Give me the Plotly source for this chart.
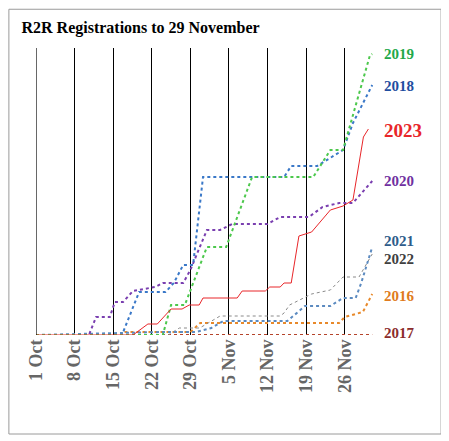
import plotly.graph_objects as go

# day 0 = 1 Oct (arbitrary units)
tick_days = [0, 7, 14, 21, 28, 35, 42, 49, 56]
tick_text = ["1 Oct", "8 Oct", "15 Oct", "22 Oct", "29 Oct", "5 Nov", "12 Nov", "19 Nov", "26 Nov"]

d2019 = [0, 23, 24.5, 27, 31, 34.5, 39.2, 50.3, 53.4, 55.7, 60.6, 61]
v2019 = [0, 0, 30, 30, 88, 88, 158, 158, 185, 185, 280, 281]

d2018 = [0, 15.6, 18.7, 23.5, 25, 26.7, 28.5, 30.3, 45, 46.3, 51, 55.7, 57.5, 61]
v2018 = [0, 0, 43, 43, 52, 70, 70, 158, 158, 169, 169, 185, 212, 250]

d2023 = [0, 17.6, 20.3, 22, 24.5, 26.5, 27.8, 29.6, 30.3, 36.5, 37.4, 41.6, 42.4, 44.3, 45, 46.3,
         47.7, 50, 53.4, 55.7, 57.5, 59.4, 60.3]
v2023 = [0, 0, 11, 11, 26, 26, 30, 30, 37, 37, 44, 44, 48, 48, 52, 52,
         99, 103, 125, 129, 135, 198, 206]

d2020 = [0, 9.6, 10.9, 13.4, 14.3, 15.8, 17.6, 21.6, 23, 26.7, 28, 31, 33.4, 35.6, 42, 44.3,
         49.5, 52, 55, 57.5, 61]
v2020 = [0, 0, 18, 18, 33, 33, 44, 48, 52, 52, 65, 105, 105, 111, 111, 118,
         118, 128, 132, 132, 154]

d2021 = [0, 23, 29, 31.8, 34, 45.6, 48.8, 53.4, 55.7, 58, 59, 61]
v2021 = [0, 3, 3, 7, 14, 14, 29, 29, 37, 37, 52, 88]

d2022 = [0, 24, 26, 29.7, 33.4, 44.3, 45, 46, 50, 53.4, 55.7, 58.6, 61]
v2022 = [0, 0, 7, 7, 19, 19, 22, 30, 41, 45, 58, 58, 81]

d2016 = [0, 15.8, 16.2, 28, 29.8, 55, 56, 59.3, 61]
v2016 = [0, 0, 3, 3, 12, 12, 18, 23, 41]

d2017 = [0, 61]
v2017 = [0, 0]

series = [
    ("2017", d2017, v2017, "#b5442b", "#8b2c2c", "dot", 2),
    ("2016", d2016, v2016, "#e8892a", "#e07b20", "dot", 2),
    ("2022", d2022, v2022, "#8a8a8a", "#404040", "dot", 1),
    ("2021", d2021, v2021, "#5b8ac0", "#2e5c8a", "dot", 2),
    ("2020", d2020, v2020, "#7a3fb0", "#7030a0", "dot", 2),
    ("2018", d2018, v2018, "#3a78c8", "#1f4ea0", "dot", 2),
    ("2019", d2019, v2019, "#4cc84c", "#22a84a", "dot", 2),
    ("2023", d2023, v2023, "#e8262a", "#e8262a", "solid", 1),
]
label_y = {"2019": 281, "2018": 249, "2023": 205, "2020": 154, "2021": 94,
           "2022": 76, "2016": 39, "2017": 2}

fig = go.Figure()
for name, d, v, lc, tc, dash, w in series:
    fig.add_trace(go.Scatter(x=d, y=v, mode="lines", name=name,
                             line=dict(color=lc, dash=dash, width=w)))
    big = name == "2023"
    fig.add_annotation(x=1.02, xref="paper", y=label_y[name], yref="y",
                       text="<b>" + name + "</b>", showarrow=False, xanchor="left",
                       font=dict(family="Liberation Serif", size=19 if big else 15, color=tc))

# first week line sits on the left edge
fig.add_shape(type="line", xref="x", yref="paper", x0=0, x1=0, y0=0, y1=1,
              line=dict(color="black", width=1.2))
fig.add_shape(type="rect", xref="paper", yref="paper", x0=-0.08, x1=1.195, y0=-0.345, y1=1.135,
              line=dict(color="#9a9a9a", width=1))

fig.update_layout(
    width=449, height=441, showlegend=False,
    plot_bgcolor="white", paper_bgcolor="white",
    margin=dict(l=28, r=82, t=40, b=114),
    title=dict(text="<b>R2R Registrations to 29 November</b>", x=0.03, y=0.968,
               font=dict(family="Liberation Serif", size=16, color="black")),
    xaxis=dict(range=[0, 61.5], tickvals=tick_days, ticktext=["<b>" + t + "</b>" for t in tick_text],
               tickangle=-90, showgrid=True, gridcolor="black", gridwidth=1.2,
               zeroline=False, showline=False, ticks="",
               tickfont=dict(family="Liberation Serif", size=18, color="#666666")),
    yaxis=dict(range=[0, 287], visible=False),
)
fig.write_html("out.html")
